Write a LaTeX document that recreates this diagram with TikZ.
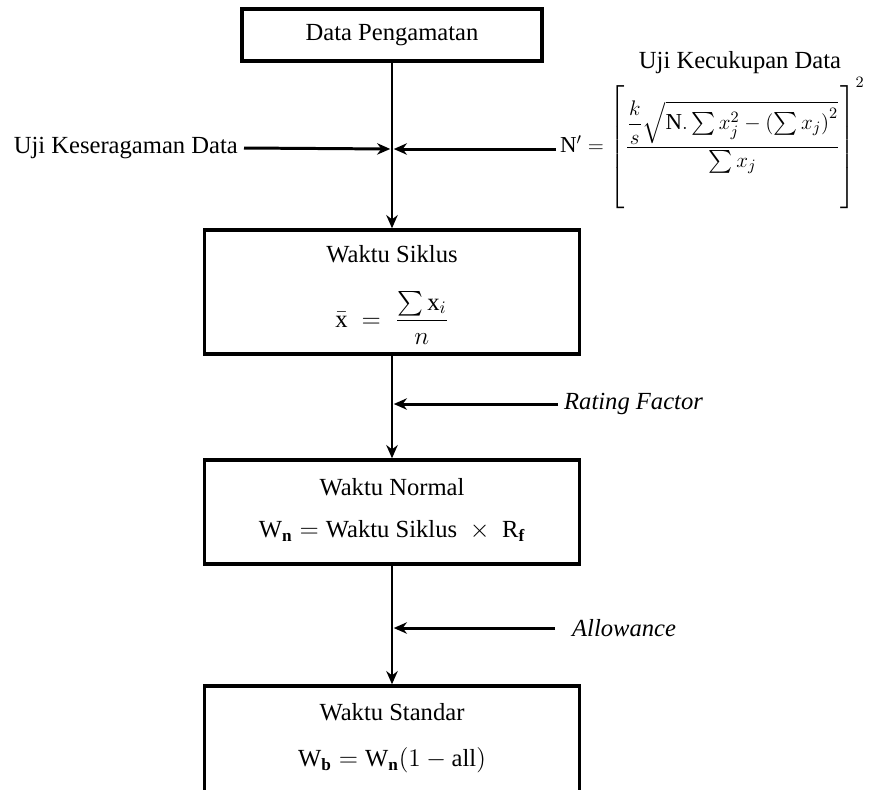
\documentclass[tikz,border=0pt]{standalone}
\usepackage{amsmath, amssymb}
\usepackage{fontspec}
\setmainfont{Liberation Serif}
\usetikzlibrary{calc, arrows.meta}
\tikzset{every node/.append style={font=\fontsize{14}{17}\selectfont}}

\begin{document}
\begin{tikzpicture}[x=0.02cm, y=-0.02cm, >={Stealth[length=7.5pt, width=6.5pt]},
    box/.style={draw, line width=2pt, inner sep=0pt},
    arr/.style={->, line width=1.7pt}]
    \useasboundingbox (0,0) rectangle (872,789);
    \clip (0,0) rectangle (872,789);
    % kotak-kotak utama
    \node[box, minimum width=6cm, minimum height=1.04cm] (data) at (392,35) {Data Pengamatan};
    \node[box, minimum width=7.5cm, minimum height=2.48cm] (siklus) at (392,292) {};
    \node (siklusjudul) at (392,254) {Waktu Siklus};
    \node (siklusrumus) at (392,318) {$\bar{\mathrm{x}} \;=\; \dfrac{\sum \mathrm{x}_i}{n}$};
    \node[box, minimum width=7.5cm, minimum height=2.08cm] (normal) at (392,512) {};
    \node (normaljudul) at (392,487) {Waktu Normal};
    \node (normalrumus) at (392,531) {$\mathrm{W}_{\mathbf{n}} = \text{Waktu Siklus} \;\times\; \mathrm{R}_{\mathbf{f}}$};
    \node[box, minimum width=7.5cm, minimum height=2.8cm] (standar) at (392,756) {};
    \node (standarjudul) at (392,712) {Waktu Standar};
    \node (standarrumus) at (392,760) {$\mathrm{W}_{\mathbf{b}} = \mathrm{W}_{\mathbf{n}}(1 - \mathrm{all})$};
    % masukan dari samping
    \node[anchor=east] (seragam) at (244,148) {Uji Keseragaman Data};
    \node (cukupjudul) at (740,63) {Uji Kecukupan Data};
    \node[anchor=west, inner sep=1pt, font=\fontsize{13}{16}\selectfont] (cukup) at (558,145)
        {$\mathrm{N}' = \left[\rule[-34pt]{0pt}{74pt}\dfrac{\dfrac{k}{s}\sqrt{\mathrm{N}.\sum x_j^2 - \left(\sum x_j\right)^2}}{\sum x_j}\right]^2$};
    \node[anchor=west, font=\fontsize{14}{17}\selectfont\itshape] (rating) at (558,404) {Rating Factor};
    \node[anchor=west, font=\fontsize{14}{17}\selectfont\itshape] (allow) at (566,628) {Allowance};
    \coordinate (j1) at (392,149);
    \coordinate (j2) at (392,404);
    \coordinate (j3) at (392,628);
    \coordinate (cukupawal) at (556,149);
    \coordinate (allowawal) at (555,628);
    % panah
    \draw[arr] (data.south) -- (siklus.north);
    \draw[arr] (siklus.south) -- (normal.north);
    \draw[arr] (normal.south) -- (standar.north);
    \draw[arr, shorten >=1pt] (seragam.east) -- (j1);
    \draw[arr, shorten >=1pt] (cukupawal) -- (j1);
    \draw[arr, shorten >=1pt] (rating.west) -- (j2);
    \draw[arr, shorten >=1pt] (allowawal) -- (j3);
\end{tikzpicture}
\end{document}
